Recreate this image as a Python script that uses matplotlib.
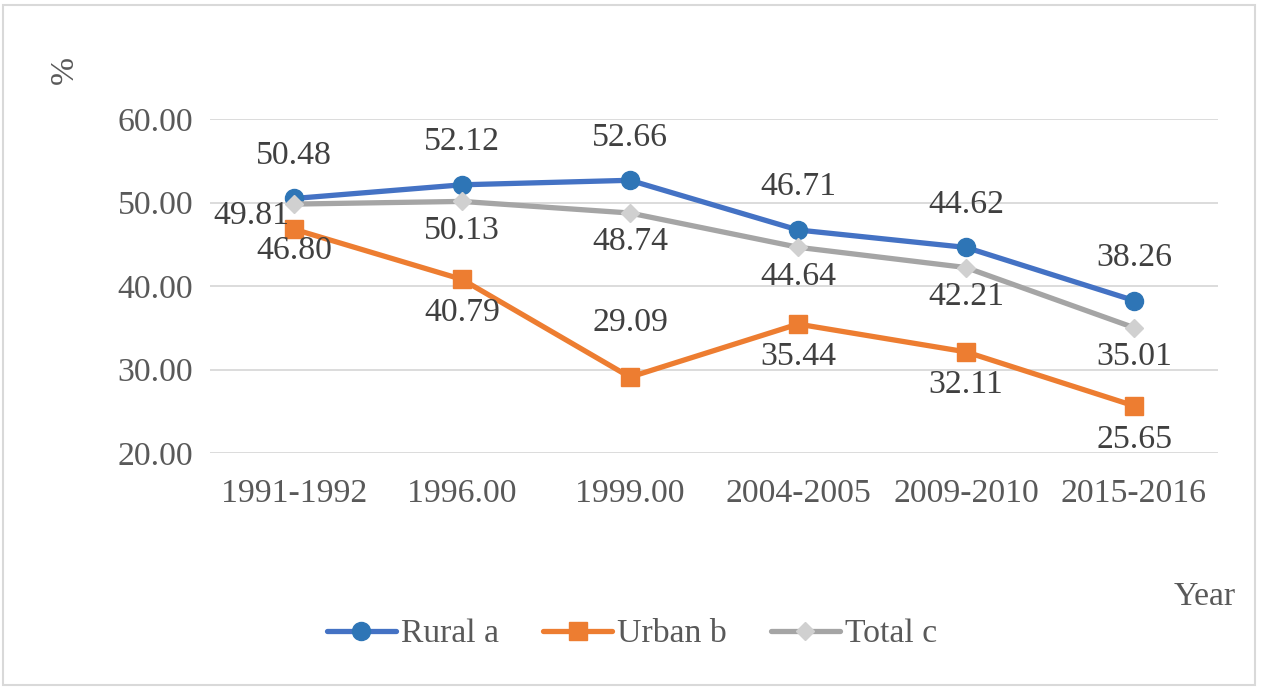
import matplotlib
matplotlib.use("Agg")
import matplotlib.pyplot as plt
from matplotlib.patches import Rectangle

categories = ["1991-1992", "1996.00", "1999.00", "2004-2005", "2009-2010", "2015-2016"]
rural = [50.48, 52.12, 52.66, 46.71, 44.62, 38.26]
urban = [46.80, 40.79, 29.09, 35.44, 32.11, 25.65]
total = [49.81, 50.13, 48.74, 44.64, 42.21, 35.01]
yticks = [20, 30, 40, 50, 60]

plt.rcParams['font.family'] = ['Liberation Serif', 'DejaVu Serif']
TXT = '#595959'
LBL = '#404040'
FS = 24.3

fig = plt.figure(figsize=(12.61, 6.88), dpi=100)
ax = fig.add_axes([210/1261, 1-453/688, 1008/1261, 334/688])

x = list(range(len(categories)))
px = 0.72  # points per pixel

ax.plot(x, rural, color='#4472C4', lw=3.8, marker='o', ms=13,
        mfc='#2E75B6', mec='#2E75B6', label='Rural a', zorder=3, solid_capstyle='round')
ax.plot(x, urban, color='#ED7D31', lw=3.8, marker='s', ms=13,
        mfc='#ED7D31', mec='#ED7D31', label='Urban b', zorder=3, solid_capstyle='round')
ax.plot(x, total, color='#A5A5A5', lw=3.8, marker='D', ms=9,
        mfc='#D0D0D0', mec='#D0D0D0', label='Total c', zorder=4, solid_capstyle='round')

def lab(xi, yi, dx, dy, ha='center'):
    ax.annotate(f"{yi:.2f}", (xi, yi), xytext=(dx*px, dy*px), textcoords='offset points',
                ha=ha, va='center', fontsize=FS, color=LBL, zorder=5)

for i, v in enumerate(rural):
    lab(i, v, 0, 43)
for i, v in enumerate(total):
    if i == 0:
        lab(i, v, -5, -12, ha='right')
    else:
        lab(i, v, 0, -29)
urban_off = [-22, -33, 54, -33, -33, -34]
for i, v in enumerate(urban):
    lab(i, v, 0, urban_off[i])

ax.set_xlim(-0.5, len(categories) - 0.5)
ax.set_ylim(20, 60)
ax.set_yticks(yticks)
ax.set_yticklabels([f"{t:.2f}" for t in yticks])
ax.set_xticks(x)
ax.set_xticklabels(categories)
ax.tick_params(axis='both', length=0, labelsize=FS, labelcolor=TXT)
ax.tick_params(axis='x', pad=18)
ax.tick_params(axis='y', pad=12)
ax.grid(axis='y', color='#D9D9D9', lw=1.3)
ax.set_axisbelow(True)
for s in ax.spines.values():
    s.set_visible(False)

fig.text(65/1261, 1-70/688, '%', rotation=90, ha='center', va='center', fontsize=FS, color=TXT)
fig.text(1205/1261, 1-597/688, 'Year', ha='center', va='center', fontsize=FS, color=TXT)

leg = fig.legend(loc='center', bbox_to_anchor=(632/1261, 1-634/688), ncol=3, frameon=False,
                 fontsize=FS, labelcolor=TXT, handlelength=2.05, handletextpad=0.15,
                 columnspacing=1.3)

fig.patches.append(Rectangle((3/1261, 3/688), 1252/1261, 680/688, transform=fig.transFigure,
                             fill=False, ec='#D9D9D9', lw=1.5))

fig.savefig('out.png', dpi=100)
